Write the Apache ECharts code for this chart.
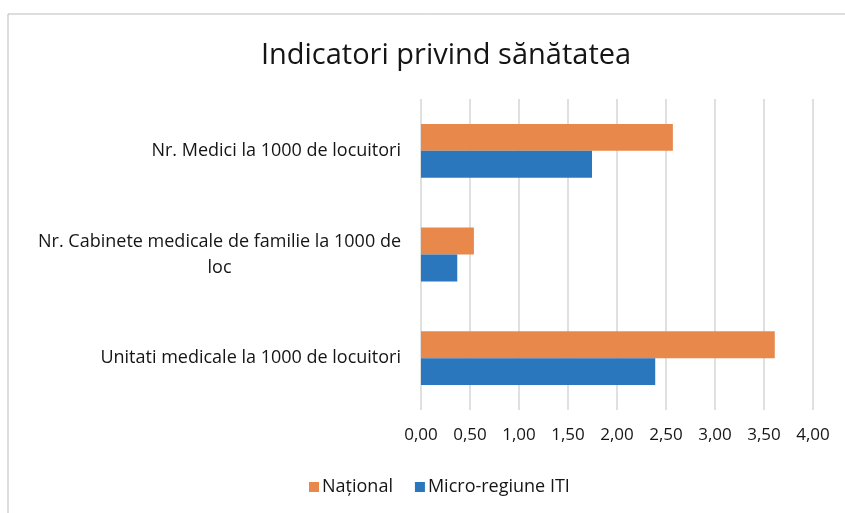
<!DOCTYPE html>
<html>
<head>
<meta charset="utf-8">
<script src="https://cdn.jsdelivr.net/npm/echarts@6/dist/echarts.min.js"></script>
<style>
  html, body { margin: 0; padding: 0; background: #fff; }
  #chart { width: 845px; height: 513px; }
</style>
</head>
<body>
<div id="chart"></div>
<script>
// date
var categories = [
  'Nr. Medici la 1000 de locuitori',
  'Nr. Cabinete medicale de familie la 1000 de\nloc',
  'Unitati medicale la 1000 de locuitori'
];
var national = [2.57, 0.54, 3.61];
var microRegiune = [1.745, 0.37, 2.39];
var seriesNames = ['Național', 'Micro-regiune ITI'];

window.onload = function () {
  drawChart();
};

function drawChart() {
  var myChart = echarts.init(document.getElementById('chart'));
  var font = 'Open Sans';
  var txt = '#151515';
  var option = {
    animation: false,
    textStyle: { fontFamily: font },
    title: {
      text: 'Indicatori privind sănătatea',
      left: 441,
      top: 36,
      textAlign: 'center',
      textStyle: { fontFamily: font, fontSize: 29, fontWeight: 'normal', color: txt }
    },
    legend: {
      data: seriesNames,
      top: 473,
      left: 304,
      itemWidth: 10,
      itemHeight: 10,
      itemGap: 22,
      icon: 'rect',
      textStyle: { fontFamily: font, fontSize: 18, color: txt, padding: [0, 0, 0, -2] }
    },
    grid: { left: 421, right: 32, top: 99, bottom: 103 },
    xAxis: {
      type: 'value',
      min: 0,
      max: 4,
      interval: 0.5,
      axisLine: { show: false },
      axisTick: { show: false },
      splitLine: { lineStyle: { color: '#d6d6d6', width: 1.5 } },
      axisLabel: {
        margin: 17,
        fontSize: 17,
        color: txt,
        formatter: function (v) { return v.toFixed(2).replace('.', ','); }
      }
    },
    yAxis: {
      type: 'category',
      data: categories,
      inverse: true,
      axisLine: { show: false },
      axisTick: { show: false },
      axisLabel: {
        margin: 20,
        fontSize: 18,
        color: txt,
        lineHeight: 26,
        formatter: function (v) {
          var parts = v.split('\n');
          if (parts.length === 1) return v;
          return '{a|' + parts[0] + '}\n{c|' + parts[1] + '}';
        },
        rich: {
          a: { fontSize: 18, color: txt, lineHeight: 26 },
          c: { fontSize: 18, color: txt, lineHeight: 26, align: 'center' }
        }
      }
    },
    series: [
      {
        name: seriesNames[0],
        type: 'bar',
        data: national,
        barGap: '0%',
        barCategoryGap: '48%',
        itemStyle: { color: '#E8894B' }
      },
      {
        name: seriesNames[1],
        type: 'bar',
        data: microRegiune,
        itemStyle: { color: '#2B77BE' }
      }
    ],
    graphic: [
      { type: 'line', shape: { x1: 8, y1: 14, x2: 845, y2: 14 }, style: { stroke: '#bbb', lineWidth: 1 } },
      { type: 'line', shape: { x1: 8, y1: 14, x2: 8, y2: 513 }, style: { stroke: '#bbb', lineWidth: 1 } }
    ]
  };
  myChart.setOption(option);
}
</script>
</body>
</html>
